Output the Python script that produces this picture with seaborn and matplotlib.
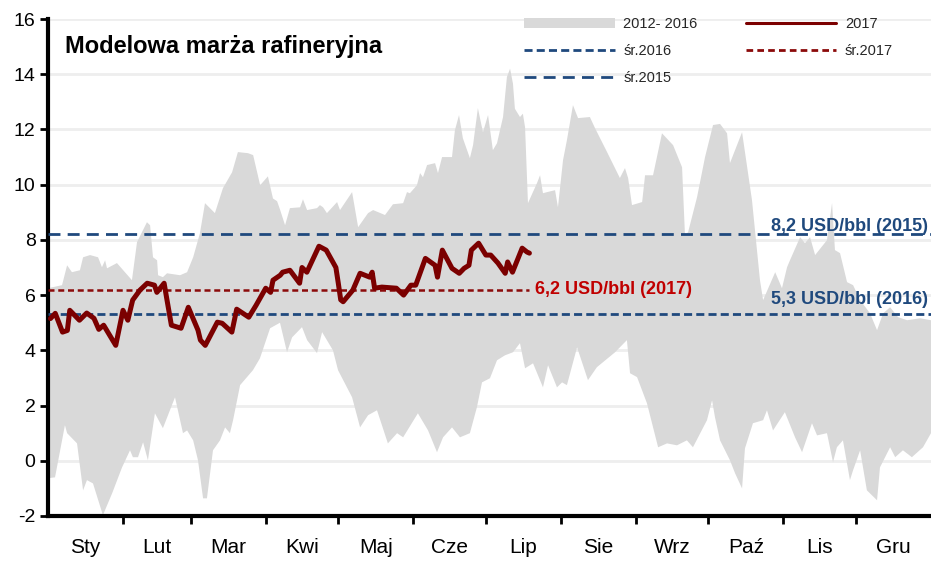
import numpy as np
import matplotlib
matplotlib.use("Agg")
import matplotlib.pyplot as plt
import seaborn as sns
from matplotlib import font_manager
from matplotlib.lines import Line2D
from matplotlib.patches import Patch

# ---- data -------------------------------------------------------------
months = ["Sty", "Lut", "Mar", "Kwi", "Maj", "Cze", "Lip", "Sie", "Wrz", "Paź", "Lis", "Gru"]
month_days = [31, 28, 31, 30, 31, 30, 31, 31, 30, 31, 30, 31]

# 2012-2016 range: upper envelope (day of year, USD/bbl)
band_top_day = [0, 5.8, 7.9, 9.9, 13.2, 14.5, 17.4, 20.7, 22.3, 23.6, 24.4, 28.5, 34.7, 36.8,
                40.9, 42.2, 43.4, 45.1, 45.5, 47.5, 49.2, 54.6, 57.5, 60.0, 62.8, 64.9, 69.0,
                72.3, 76.1, 78.5, 82.7, 84.8, 87.7, 90.9, 93.0, 94.7, 95.9, 98.0, 100.0, 104.2,
                105.4, 107.1, 111.2, 112.4, 113.7, 115.3, 119.5, 120.7, 125.7, 128.2, 132.3,
                134.4, 139.3, 142.6, 146.8, 148.4, 149.6, 152.5, 153.8, 155.0, 156.7, 160.0,
                161.2, 162.9, 167.0, 168.2, 169.9, 171.5, 174.4, 175.7, 177.7, 179.8, 181.9,
                183.9, 185.6, 188.1, 189.7, 191.0, 192.2, 193.0, 195.1, 196.3, 197.2, 198.4,
                202.1, 203.4, 204.6, 206.3, 209.6, 210.8, 212.9, 214.5, 217.0, 219.1, 224.0,
                226.1, 231.1, 236.4, 238.5, 239.8, 241.4, 245.6, 246.8, 250.1, 253.8, 258.4,
                262.1, 263.3, 264.6, 268.3, 271.6, 274.9, 277.8, 280.7, 281.9, 286.9, 291.0,
                294.3, 295.6, 300.6, 303.4, 305.5, 306.7, 310.9, 312.9, 315.0, 317.1, 322.0,
                324.1, 325.3, 327.4, 330.3, 332.8, 335.7, 339.8, 342.7, 345.2, 348.1, 351.4,
                355.1, 360.5, 365.0]
band_top = [6.25, 6.36, 7.08, 6.83, 6.9, 7.37, 7.45, 7.37, 7.01, 7.26, 6.97, 7.16, 6.54, 7.92,
            8.64, 8.53, 7.37, 7.26, 6.72, 6.65, 6.79, 6.72, 6.83, 7.37, 8.24, 9.33, 8.97,
            9.87, 10.45, 11.18, 11.14, 11.07, 9.98, 10.3, 9.5, 9.4, 9.1, 8.53, 9.15, 9.18,
            9.47, 9.08, 9.15, 9.26, 9.18, 8.97, 9.37, 9.08, 9.73, 8.46, 8.97,
            9.08, 8.9, 9.29, 9.33, 9.73, 9.69, 9.98, 10.42, 10.27, 10.71, 10.78,
            10.42, 11.0, 11.0, 11.97, 12.52, 11.68, 10.96, 11.43, 12.77, 11.9, 12.52,
            11.25, 11.5, 12.45, 13.9, 14.2, 13.66, 12.75, 12.45, 12.57, 12.08, 9.33,
            10.05, 10.34, 9.69, 9.73, 9.8, 9.18, 10.89, 11.61, 12.88, 12.41, 12.45,
            12.05, 11.18, 10.24, 10.6, 10.24, 9.26, 9.37, 10.34, 10.34, 11.86, 11.43,
            10.63, 8.17, 8.28, 9.55, 11.0, 12.16, 12.2, 11.86, 10.78, 11.9, 9.44,
            6.54, 5.82, 6.83, 6.25, 7.01, 7.26, 8.1, 7.88, 8.1, 7.45, 7.99,
            9.33, 7.63, 7.52, 6.47, 6.36, 5.82, 5.34, 4.73, 5.34, 5.56, 5.2,
            5.09, 5.16, 5.09]

# 2012-2016 range: lower envelope
band_low_day = [0, 2.9, 7.0, 7.9, 12.0, 14.5, 16.1, 18.6, 22.7, 26.5, 30.6, 33.9, 35.1, 37.2,
                39.3, 41.3, 44.2, 47.5, 52.5, 55.8, 57.5, 60.0, 62.0, 64.1, 65.7, 68.2, 71.1,
                73.2, 75.2, 76.5, 79.4, 84.7, 87.6, 91.8, 95.9, 98.8, 100.9, 105.0, 107.1,
                111.2, 113.3, 117.8, 119.9, 125.7, 129.0, 132.3, 136.0, 140.5, 144.3, 146.8,
                152.9, 157.1, 160.8, 163.3, 167.0, 170.3, 174.4, 177.3, 179.4, 182.7, 185.6,
                188.9, 192.2, 195.1, 197.2, 200.5, 204.6, 206.7, 210.4, 212.5, 214.5, 218.7,
                223.2, 226.9, 234.4, 239.3, 240.6, 243.5, 247.6, 252.2, 255.9, 260.0, 264.1,
                266.6, 272.4, 274.5, 275.7, 277.8, 281.9, 284.0, 286.9, 288.1, 291.4, 295.6,
                297.2, 299.7, 304.6, 308.8, 311.7, 315.8, 317.9, 322.0, 324.5, 326.1, 328.6,
                331.5, 332.8, 335.7, 338.5, 342.7, 343.9, 348.1, 350.2, 353.4, 357.1, 361.7,
                365.0]
band_low = [-0.63, -0.6, 1.29, 1.0, 0.63, -1.07, -0.7, -0.82, -1.97, -1.18, -0.24, 0.38, 0.13,
            0.13, 0.67, 0.02, 1.72, 1.18, 2.30, 1.0, 1.1, 0.74, 0.02, -1.36, -1.36, 0.38, 0.74,
            1.21, 1.0, 1.47, 2.74, 3.28, 3.71, 4.8, 5.0, 3.93, 4.47, 4.84, 4.37,
            3.9, 4.66, 4.0, 3.28, 2.30, 1.21, 1.65, 1.83, 0.63, 1.0, 0.85,
            1.72, 1.1, 0.31, 0.85, 1.21, 0.85, 1.0, 1.94, 2.84, 2.99, 3.64,
            3.82, 3.93, 4.26, 3.35, 3.53, 2.66, 3.46, 2.66, 2.84, 2.74, 4.11,
            2.92, 3.39, 3.93, 4.37, 3.17, 3.03, 2.08, 0.49, 0.63, 0.56, 0.74,
            0.49, 1.47, 2.19, 1.58, 0.74, 0.02, -0.45, -1.0, 0.45, 1.36, 1.47,
            1.83, 1.1, 1.76, 0.85, 0.31, 1.36, 0.92, 1.0, -0.05, 0.49, 0.74,
            -0.7, -0.34, 0.38, -1.07, -1.43, -0.24, 0.49, 0.13, 0.38, 0.13, 0.49,
            1.0]

# 2017 model margin
y2017_day = [1, 3, 6, 8, 9, 13, 16, 19, 21, 23, 28, 31, 33, 35, 38, 41, 44, 45, 48, 49, 51, 55,
             58, 62, 63, 65, 70, 72, 76, 78, 83, 86, 90, 92, 93, 96, 97, 100, 104, 105, 107,
             112, 115, 119, 120, 121, 122, 126, 129, 133, 134, 135, 138, 144, 147, 150, 152,
             156, 160, 161, 163, 167, 170, 172, 174, 175, 178, 181, 183, 186, 189, 190, 192,
             196, 198, 199]
y2017 = [5.15, 5.34, 4.66, 4.72, 5.45, 5.09, 5.35, 5.16, 4.76, 4.91, 4.18, 5.45, 5.09, 5.82,
         6.18, 6.43, 6.36, 6.1, 6.43, 5.92, 4.91, 4.8, 5.56, 4.73, 4.37, 4.18, 5.02, 4.98,
         4.66, 5.49, 5.2, 5.63, 6.25, 6.1, 6.54, 6.72, 6.83, 6.9, 6.43, 7.0, 6.83,
         7.77, 7.63, 7.0, 6.43, 5.83, 5.76, 6.18, 6.79, 6.65, 6.83, 6.25, 6.29, 6.25, 6.0,
         6.36, 6.36, 7.33, 7.08, 6.65, 7.63, 6.97, 6.79, 6.97, 7.08, 7.63, 7.88, 7.45, 7.45,
         7.16, 6.79, 7.2, 6.83, 7.7, 7.56, 7.52]

avg_2015 = 8.2
avg_2016 = 5.3
avg_2017 = 6.2

# ---- style ------------------------------------------------------------
sns.set_theme(style="white")
installed = {f.name for f in font_manager.fontManager.ttflist}
base = "Liberation Sans Narrow" if "Liberation Sans Narrow" in installed else "Liberation Sans"
plt.rcParams["font.family"] = [base, "DejaVu Sans"]
plt.rcParams["axes.unicode_minus"] = False

GRAY = "#d9d9d9"
MAROON = "#7b0000"
DARKRED = "#8b0a0a"
LABELRED = "#c00000"
NAVY = "#1f497d"

fig = plt.figure(figsize=(9.31, 5.65), dpi=100)
ax = fig.add_axes([48 / 931, 49 / 565, 883 / 931, 497 / 565])

# min-max range of previous years
ax.fill(np.r_[band_top_day, band_low_day[::-1]], np.r_[band_top, band_low[::-1]],
        color=GRAY, lw=0, zorder=1)

# averages
ax.axhline(avg_2015, color=NAVY, lw=2, dashes=(4.3, 2.6), zorder=3)
ax.axhline(avg_2016, color=NAVY, lw=2, dashes=(2.9, 1.5), zorder=3)
ax.hlines(avg_2017, 0, y2017_day[-1], color=DARKRED, lw=1.8, linestyles=(0, (2.4, 1.5)), zorder=3)

# 2017
sns.lineplot(x=y2017_day, y=y2017, ax=ax, color=MAROON, lw=3.6, estimator=None, sort=False,
             zorder=4, legend=False)

def fmt(v):
    return f"{v:.1f}".replace(".", ",")

ax.text(y2017_day[-1] + 2.5, avg_2017, f"{fmt(avg_2017)} USD/bbl (2017)", color=LABELRED,
        fontsize=13, fontweight="bold", va="center", ha="left", zorder=5)
ax.text(363.6, avg_2015 - 0.04, f"{fmt(avg_2015)} USD/bbl (2015)", color=NAVY,
        fontsize=13, fontweight="bold", va="bottom", ha="right", zorder=5)
ax.text(363.6, avg_2016 + 0.25, f"{fmt(avg_2016)} USD/bbl (2016)", color=NAVY,
        fontsize=13, fontweight="bold", va="bottom", ha="right", zorder=5)

# axes
ax.set_xlim(0, 365)
ax.set_ylim(-2, 16)
ax.set_yticks(np.arange(-2, 17, 2))
ax.yaxis.grid(True, color="#eeeeee", lw=2)
ax.set_axisbelow(True)

bounds = np.cumsum([0] + month_days)
ax.set_xticks(bounds[1:-1])
ax.set_xticklabels([])
ax.set_xticks((bounds[:-1] + bounds[1:]) / 2, minor=True)
ax.set_xticklabels(months, minor=True)
ax.tick_params(axis="x", which="major", direction="out", length=6, width=2, color="black",
               bottom=True)
ax.tick_params(axis="x", which="minor", length=0, pad=16, labelsize=15, colors="black",
               bottom=True)
ax.tick_params(axis="y", direction="out", length=6, width=2, color="black", labelsize=14,
               pad=3, left=True, labelcolor="black")

for side in ("top", "right"):
    ax.spines[side].set_visible(False)
for side in ("left", "bottom"):
    ax.spines[side].set_color("black")
    ax.spines[side].set_linewidth(3)

fig.text(65 / 931, 1 - 46 / 565, "Modelowa marża rafineryjna", fontsize=17, fontweight="bold",
         va="center", ha="left", color="black")

handles = [
    Patch(facecolor=GRAY, edgecolor="none"),
    Line2D([], [], color=NAVY, lw=2, dashes=(2.9, 1.5)),
    Line2D([], [], color=NAVY, lw=2, dashes=(4.3, 2.6)),
    Line2D([], [], color=MAROON, lw=2.2),
    Line2D([], [], color=DARKRED, lw=2, dashes=(2.4, 1.5)),
]
labels = ["2012- 2016", "śr.2016", "śr.2015", "2017", "śr.2017"]
fig.legend(handles, labels, loc="upper left", bbox_to_anchor=(514 / 931, 1 - 7 / 565),
           ncol=2, frameon=False, fontsize=10.5, handlelength=6.2, handleheight=0.7,
           handletextpad=0.6, columnspacing=3.3, labelspacing=0.9, borderpad=0.2)

fig.savefig("out.png", dpi=100)
